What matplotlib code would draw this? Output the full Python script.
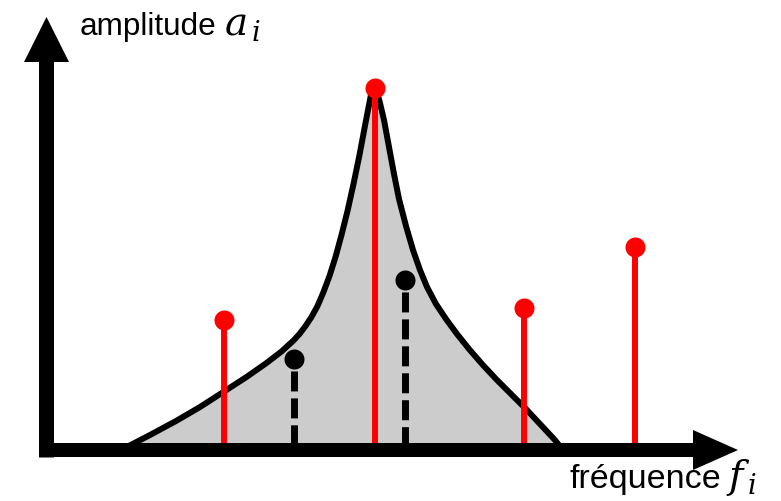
import matplotlib

matplotlib.use("Agg")
import matplotlib.pyplot as plt

plt.rcParams["mathtext.fontset"] = "custom"
plt.rcParams["mathtext.it"] = "DejaVu Serif:italic"
plt.rcParams["mathtext.rm"] = "DejaVu Serif"
plt.rcParams["lines.scale_dashes"] = False

# peak spectrum outline (frequency, amplitude), origin at the axis corner
curve_f = [74.5, 103.5, 129.5, 153.5, 176.8, 200, 220, 235, 247, 253, 259, 265,
           271, 277, 283, 289, 295, 301, 307, 313, 319, 325, 328.5,
           333, 337.5, 342.5, 347.5, 352.5, 359.5, 366.5, 373.5, 380.5, 389.5,
           399.5, 410.5, 422.5, 435.5, 449.5, 464.5, 479.5, 493.5, 507.5, 516.5]
curve_a = [0, 15, 29, 43, 58, 73, 87, 98.5, 109.5, 116, 124, 133,
           144, 158, 174, 193, 215, 239, 266, 295, 327, 358, 364,
           349, 330, 303, 276, 251, 224, 200, 180, 163, 146,
           131, 116, 101, 86, 71, 56, 41, 26, 11, 0]

# red stems (sampled components)
red_f = [177, 328.5, 477.5, 588.5]
red_a = [130, 362, 142, 203]

# black dashed stems
black_f = [247, 358.5]
black_a = [91, 170]

fig = plt.figure(figsize=(7.81, 5.01), dpi=100)
ax = fig.add_axes([0, 0, 1, 1])
ax.set_xlim(-46.5, 734.5)
ax.set_ylim(-51, 450)
ax.axis("off")

# grey area under the curve + outline
ax.fill_between(curve_f, curve_a, 0, color="#cccccc", lw=0, zorder=1)
ax.plot(curve_f, curve_a, color="k", lw=4.3, zorder=2)

# dashed black stems
for f, a in zip(black_f, black_a):
    ax.plot([f, f], [a, 0], color="k", lw=5, linestyle=(10.8, (14.4, 5)),
            solid_capstyle="butt", dash_capstyle="butt", zorder=3)
ax.plot(black_f, black_a, "o", color="k", ms=14.4, mec="none", zorder=5)

# red stems
for f, a in zip(red_f, red_a):
    ax.plot([f, f], [a, 0], color="#ff0000", lw=4.3, solid_capstyle="butt", zorder=4)
ax.plot(red_f, red_a, "o", color="#ff0000", ms=14.4, mec="none", zorder=5)

# axes as thick arrows
ax.arrow(-7.5, 0, 699, 0, width=14, head_width=40, head_length=45,
         length_includes_head=True, fc="k", ec="none", zorder=10)
ax.arrow(0, -7.5, 0, 440.5, width=15, head_width=45, head_length=45,
         length_includes_head=True, fc="k", ec="none", zorder=10)

# axis labels (symbol drawn a bit larger, like the equation font in the original)
ax.text(33, 415, "amplitude", fontsize=22.7, family="Liberation Sans",
        va="baseline", ha="left")
ax.text(178, 415, r"$a_{\,i}$", fontsize=28, va="baseline", ha="left")
ax.text(523.5, -38, "fréquence", fontsize=24.5, family="Liberation Sans",
        va="baseline", ha="left")
ax.text(680, -38, r"$f_{\,i}$", fontsize=28, va="baseline", ha="left")

fig.savefig("out.png", dpi=100)
